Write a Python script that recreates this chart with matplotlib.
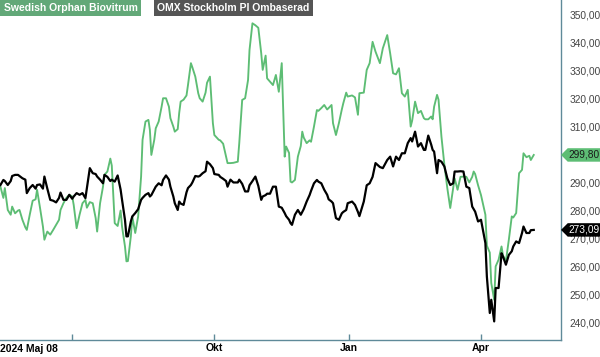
import matplotlib

matplotlib.use("Agg")
import matplotlib.pyplot as plt
import matplotlib.transforms as mtransforms
from matplotlib.patches import Polygon
import pandas as pd

plt.rcParams["font.family"] = ["Liberation Sans", "DejaVu Sans"]

START = pd.Timestamp("2024-05-07")

# calendar-day offsets from START, shared by both series
days = [
    1, 3, 4, 6, 8, 9, 11, 13, 14, 16, 18, 19, 21, 23, 25, 26, 28, 30, 31, 33,
    35, 37, 39, 41, 42, 44, 46, 48, 50, 51, 53, 55, 57, 59, 60, 62, 64, 66, 67, 69,
    71, 72, 74, 76, 77, 79, 81, 83, 84, 86, 87, 88, 90, 91, 93, 95, 97, 98, 100, 102,
    103, 104, 106, 107, 109, 111, 112, 114, 116, 117, 119, 120, 122, 123, 124, 126, 128, 129, 131, 132,
    134, 136, 137, 139, 141, 142, 144, 146, 147, 150, 151, 153, 155, 156, 158, 160, 163, 164, 166, 168,
    170, 171, 173, 175, 177, 179, 180, 182, 183, 185, 187, 189, 191, 193, 195, 196, 198, 199, 200, 202,
    204, 206, 207, 208, 210, 212, 213, 215, 217, 218, 220, 222, 224, 225, 227, 228, 230, 232, 234, 235,
    237, 238, 241, 243, 245, 246, 249, 251, 253, 255, 257, 260, 262, 265, 267, 269, 271, 273, 275, 277,
    279, 281, 282, 284, 286, 288, 290, 291, 293, 295, 296, 297, 299, 300, 302, 304, 306, 308, 310, 311,
    313, 315, 317, 319, 321, 323, 324, 325, 327, 329, 332, 333, 335, 336, 338, 339, 341, 343, 344, 346,
    348, 350, 351, 353, 355, 357, 358, 360, 362, 363, 365,
]

omx = [
    289.1, 290.9, 290.5, 289.1, 290.5, 292.3, 292.7, 292.7, 292.3, 291.5, 291.0, 286.2, 288.0, 289.1, 287.8, 289.1, 289.3, 287.8, 292.1, 287.8,
    283.8, 283.5, 282.9, 284.5, 286.4, 283.8, 283.8, 285.6, 284.2, 285.0, 286.2, 285.6, 286.2, 284.4, 288.0, 295.1, 293.3, 293.0, 292.1, 291.0,
    289.7, 292.7, 292.0, 290.5, 291.0, 290.3, 292.5, 287.5, 283.8, 276.7, 270.8, 270.8, 276.1, 277.9, 279.1, 280.5, 283.8, 284.5, 285.6, 286.2,
    285.0, 285.5, 287.5, 288.5, 289.7, 289.0, 290.9, 292.5, 291.0, 288.5, 285.0, 282.6, 280.2, 283.2, 282.5, 282.0, 286.5, 288.0, 289.1, 290.0,
    292.3, 292.1, 292.3, 293.3, 294.0, 297.4, 296.5, 295.1, 293.0, 292.7, 292.0, 291.3, 290.5, 288.5, 291.0, 290.0, 290.0, 291.0, 289.5, 286.8,
    286.8, 289.0, 290.5, 292.1, 288.8, 283.8, 285.0, 285.5, 286.0, 286.0, 288.5, 288.5, 281.4, 281.0, 279.1, 278.0, 276.7, 275.5, 274.9, 278.5,
    280.2, 278.5, 279.5, 280.5, 283.2, 285.5, 287.0, 289.7, 290.9, 290.3, 289.7, 287.4, 285.6, 284.0, 283.2, 282.6, 277.3, 276.7, 279.0, 279.5,
    280.2, 282.6, 283.2, 282.0, 279.5, 278.0, 283.2, 289.0, 289.7, 292.0, 296.9, 295.5, 295.1, 298.0, 299.2, 295.7, 299.2, 298.0, 300.4, 300.4,
    304.0, 305.8, 304.6, 308.1, 302.8, 304.0, 301.6, 301.6, 306.7, 303.5, 301.6, 301.0, 293.3, 298.0, 297.4, 295.7, 291.5, 289.1, 289.7, 293.9,
    293.9, 294.0, 293.9, 288.5, 288.0, 281.4, 280.5, 279.6, 276.1, 276.7, 268.4, 256.5, 243.5, 248.2, 240.5, 252.4, 252.4, 264.8, 263.6, 260.7,
    264.2, 265.5, 267.2, 269.0, 268.4, 272.0, 274.3, 272.0, 272.0, 273.0, 273.09,
]

sobi = [
    288.5, 284.5, 288.0, 280.2, 278.5, 281.4, 279.0, 280.0, 280.2, 276.7, 274.0, 273.1, 278.5, 283.5, 284.0, 287.4, 281.0, 274.3, 269.6, 272.5,
    271.4, 273.1, 274.9, 276.7, 280.2, 282.6, 284.5, 285.6, 285.0, 282.0, 273.7, 278.5, 282.6, 283.8, 281.0, 283.0, 282.6, 277.3, 272.5, 282.6,
    288.5, 292.7, 293.9, 298.5, 296.0, 275.5, 274.5, 280.0, 274.3, 267.2, 261.9, 262.0, 270.8, 277.9, 272.0, 277.9, 292.1, 305.2, 311.7, 312.3,
    308.7, 299.8, 305.2, 309.3, 311.7, 317.0, 320.0, 320.0, 317.0, 312.9, 309.9, 308.1, 309.0, 314.7, 318.8, 319.5, 321.0, 324.7, 332.5, 331.0,
    327.7, 321.8, 320.0, 318.8, 322.0, 325.5, 327.7, 311.1, 306.9, 305.2, 305.0, 303.8, 299.2, 296.9, 296.9, 297.0, 297.4, 304.0, 319.4, 320.0,
    326.5, 337.2, 346.7, 346.0, 345.1, 336.0, 330.1, 335.2, 327.1, 325.9, 324.7, 328.3, 322.3, 332.5, 299.2, 302.8, 300.5, 290.3, 290.0, 290.9,
    299.2, 303.0, 308.1, 306.0, 304.0, 305.0, 304.5, 309.9, 315.8, 315.5, 316.5, 317.6, 316.0, 316.5, 317.6, 311.1, 306.9, 311.1, 316.0, 318.2,
    322.0, 320.6, 321.0, 320.3, 314.1, 321.8, 322.0, 330.1, 332.5, 340.1, 336.6, 332.5, 337.8, 342.5, 336.0, 328.9, 328.5, 330.7, 321.8, 320.6,
    323.0, 309.9, 312.0, 318.8, 314.7, 315.5, 312.9, 312.5, 312.5, 313.5, 312.5, 317.0, 321.2, 319.5, 306.3, 296.3, 288.0, 280.9, 288.0, 291.5,
    287.4, 292.0, 292.1, 292.0, 290.0, 292.0, 293.9, 293.0, 289.0, 285.5, 278.5, 267.5, 265.0, 254.2, 248.2, 260.1, 262.5, 267.2, 264.0, 262.0,
    269.6, 277.9, 277.5, 279.1, 293.3, 294.5, 300.4, 299.0, 299.5, 298.0, 299.8,
]

series_names = ["Swedish Orphan Biovitrum", "OMX Stockholm PI Ombaserad"]
y_ticks = [240, 250, 260, 270, 280, 290, 300, 310, 320, 330, 340, 350]
x_tick_dates = ["2024-10-01", "2025-01-01", "2025-04-01"]
x_tick_labels = ["Okt", "Jan", "Apr"]
start_label = "2024 Maj 08"

GREEN = "#5dbd74"
AXIS = "#5f8a99"

dates = START + pd.to_timedelta(days, unit="D")

fig = plt.figure(figsize=(6.0, 3.57), dpi=100)
ax = fig.add_axes([0.0, 0.047, 0.935, 0.953])

ax.plot(dates, sobi, color=GREEN, lw=1.35)
ax.plot(dates, omx, color="black", lw=1.6)

ax.set_ylim(233.8, 355.0)
ax.set_xlim(START + pd.Timedelta(days=0.7), START + pd.Timedelta(days=383.6))

for side in ("top", "left"):
    ax.spines[side].set_visible(False)
for side in ("bottom", "right"):
    ax.spines[side].set_color(AXIS)
    ax.spines[side].set_linewidth(1.0)

ax.yaxis.tick_right()
ax.set_yticks(y_ticks)
ax.set_yticklabels([f"{v:.2f}".replace(".", ",") for v in y_ticks])
ax.tick_params(axis="y", length=0, pad=6, labelsize=7.3, labelcolor="#444444")

# labelled month ticks plus an unlabelled one near the start
tick_pos = [pd.Timestamp("2024-06-26")] + [pd.Timestamp(d) for d in x_tick_dates]
ax.set_xticks(tick_pos)
ax.set_xticklabels([""] + x_tick_labels, fontweight="bold")
ax.tick_params(axis="x", length=4, width=1.0, color=AXIS, direction="in",
               pad=2, labelsize=7.5)
ax.text(0.0, -0.012, start_label, transform=ax.transAxes, ha="left", va="top",
        fontsize=7.5, fontweight="bold")

# last-value tags on the right axis
trans = mtransforms.blended_transform_factory(ax.transAxes, ax.transData)
for val, face, txtc in [(sobi[-1], GREEN, "#1a1a1a"), (omx[-1], "black", "white")]:
    h = 2.4
    poly = Polygon([(1.0, val), (1.012, val + h), (1.075, val + h),
                    (1.075, val - h), (1.012, val - h)],
                   closed=True, transform=trans, facecolor=face,
                   edgecolor="none", clip_on=False, zorder=5)
    ax.add_patch(poly)
    ax.text(1.013, val, f"{val:.2f}".replace(".", ","), transform=trans,
            ha="left", va="center", fontsize=7.3, color=txtc, zorder=6,
            clip_on=False)

# series name boxes at the top
fig.text(0.006, 0.978, series_names[0], ha="left", va="center", fontsize=7.5,
         fontweight="bold", color="white",
         bbox=dict(boxstyle="square,pad=0.3", facecolor="#62a878", edgecolor="none"))
fig.text(0.262, 0.978, series_names[1], ha="left", va="center", fontsize=7.5,
         fontweight="bold", color="white",
         bbox=dict(boxstyle="square,pad=0.3", facecolor="#555555", edgecolor="none"))

fig.savefig("out.png", dpi=100)
